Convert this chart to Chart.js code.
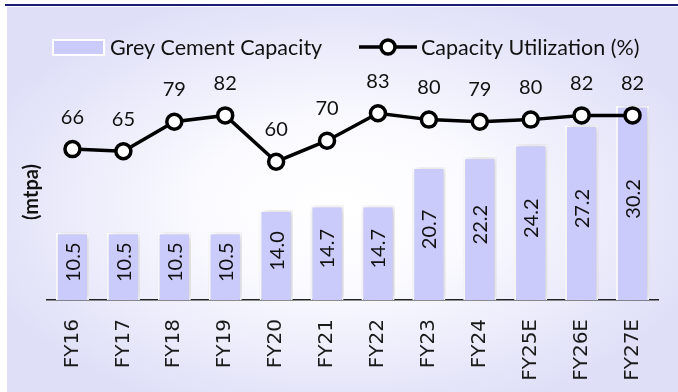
<!DOCTYPE html>
<html>
<head>
<meta charset="utf-8">
<script src="https://cdn.jsdelivr.net/npm/chart.js@4.4.1/dist/chart.umd.min.js"></script>
<style>
  html, body { margin: 0; padding: 0; background: #ffffff; }
  #wrap { width: 678px; height: 392px; }
</style>
</head>
<body>
<div id="wrap"><canvas id="chart" width="678" height="392"></canvas></div>
<script>
// Fiscal years on the category axis
const categories = ['FY16', 'FY17', 'FY18', 'FY19', 'FY20', 'FY21', 'FY22', 'FY23', 'FY24', 'FY25E', 'FY26E', 'FY27E'];
// Grey cement capacity, mtpa
const capacity = [10.5, 10.5, 10.5, 10.5, 14.0, 14.7, 14.7, 20.7, 22.2, 24.2, 27.2, 30.2];
// Capacity utilization, %
const utilization = [66, 65, 79, 82, 60, 70, 83, 80, 79, 80, 82, 82];

const seriesNames = ['Grey Cement Capacity', 'Capacity Utilization (%)'];
const unitLabel = '(mtpa)';

const BAR_FILL = '#cbcbfb';
const TEXT = '#111111';
const LABEL_FONT = 'Lato, "Noto Sans", sans-serif';

// Soft lavender panel with a lighter centre, plus the navy rule above it
const backdrop = {
  id: 'backdrop',
  beforeDraw(chart) {
    const ctx = chart.ctx;
    const W = chart.width, H = chart.height;
    ctx.save();
    ctx.fillStyle = '#ffffff';
    ctx.fillRect(0, 0, W, H);
    ctx.translate(340, 205);
    ctx.scale(1, 0.58);
    const g = ctx.createRadialGradient(0, 0, 0, 0, 0, 380);
    g.addColorStop(0, '#ffffff');
    g.addColorStop(0.35, '#fbfbff');
    g.addColorStop(1, '#dfdff8');
    ctx.fillStyle = g;
    ctx.fillRect(-333, -198 / 0.58, 671, 385 / 0.58);
    ctx.restore();
    ctx.save();
    ctx.fillStyle = '#1c1c78';
    ctx.fillRect(5, 4, W - 5, 2);
    ctx.restore();
  }
};

// Light shadow behind the bars
const barShadow = {
  id: 'barShadow',
  beforeDatasetDraw(chart, args) {
    if (chart.data.datasets[args.index].type !== 'bar') return;
    const ctx = chart.ctx;
    ctx.save();
    ctx.shadowColor = 'rgba(70,70,100,0.3)';
    ctx.shadowBlur = 7;
    ctx.shadowOffsetX = 2;
    ctx.shadowOffsetY = 0;
  },
  afterDatasetDraw(chart, args) {
    if (chart.data.datasets[args.index].type !== 'bar') return;
    chart.ctx.restore();
  }
};

// Value labels: vertical inside the bars, above the line markers
const valueLabels = {
  id: 'valueLabels',
  afterDatasetsDraw(chart) {
    const ctx = chart.ctx;
    ctx.save();
    ctx.fillStyle = TEXT;
    ctx.font = '20px ' + LABEL_FONT;
    ctx.textAlign = 'center';
    ctx.textBaseline = 'middle';
    chart.data.datasets.forEach((ds, di) => {
      const meta = chart.getDatasetMeta(di);
      meta.data.forEach((el, i) => {
        const v = ds.data[i];
        if (ds.type === 'bar') {
          const cy = (el.y + el.base) / 2 - 4;
          ctx.save();
          ctx.translate(el.x, cy);
          ctx.rotate(-Math.PI / 2);
          ctx.fillText(v.toFixed(1), 0, 1);
          ctx.restore();
        } else {
          ctx.fillText(String(v), el.x, el.y - 32);
        }
      });
    });
    ctx.restore();
  }
};

// Legend row and the unit caption on the left
const legendAndUnit = {
  id: 'legendAndUnit',
  afterDraw(chart) {
    const ctx = chart.ctx;
    const cy = 47;
    ctx.save();
    // bar swatch
    ctx.fillStyle = BAR_FILL;
    ctx.fillRect(53, 40, 51, 15);
    ctx.strokeStyle = '#ffffff';
    ctx.lineWidth = 2;
    ctx.strokeRect(53, 40, 51, 15);
    ctx.fillStyle = TEXT;
    ctx.font = '21.5px ' + LABEL_FONT;
    ctx.textAlign = 'left';
    ctx.textBaseline = 'middle';
    ctx.fillText(seriesNames[0], 110, cy + 1);
    // line swatch
    ctx.strokeStyle = '#000000';
    ctx.lineWidth = 3.5;
    ctx.beginPath();
    ctx.moveTo(359, cy);
    ctx.lineTo(417, cy);
    ctx.stroke();
    ctx.beginPath();
    ctx.arc(388, cy, 7, 0, Math.PI * 2);
    ctx.fillStyle = '#ffffff';
    ctx.fill();
    ctx.stroke();
    ctx.fillStyle = TEXT;
    ctx.fillText(seriesNames[1], 421, cy + 1);
    // unit caption
    ctx.font = 'bold 20px ' + LABEL_FONT;
    ctx.textAlign = 'center';
    ctx.translate(32, 192);
    ctx.rotate(-Math.PI / 2);
    ctx.fillText(unitLabel, 0, 0);
    ctx.restore();
  }
};

new Chart(document.getElementById('chart'), {
  data: {
    labels: categories,
    datasets: [
      {
        type: 'line',
        label: seriesNames[1],
        data: utilization,
        yAxisID: 'y1',
        order: 0,
        borderColor: '#000000',
        borderWidth: 3.5,
        pointRadius: 7.5,
        pointBorderWidth: 3.5,
        pointBackgroundColor: '#ffffff',
        pointBorderColor: '#000000',
        tension: 0,
        clip: false
      },
      {
        type: 'bar',
        label: seriesNames[0],
        data: capacity,
        yAxisID: 'y',
        order: 1,
        backgroundColor: BAR_FILL,
        borderColor: '#ffffff',
        borderWidth: 2,
        categoryPercentage: 1,
        barPercentage: 0.65
      }
    ]
  },
  options: {
    responsive: false,
    animation: false,
    devicePixelRatio: 1,
    layout: { padding: { left: 47, right: 20, top: 75, bottom: 0 } },
    plugins: { legend: { display: false }, tooltip: { enabled: false } },
    scales: {
      x: {
        grid: { display: false, drawTicks: false },
        border: { display: true, color: '#222222', width: 1.5 },
        ticks: {
          color: '#1a1a1a',
          font: { family: '"DejaVu Sans", Verdana, sans-serif', size: 20 },
          minRotation: 90,
          maxRotation: 90,
          padding: 19,
          autoSkip: false
        },
        afterFit(scale) { scale.height = 92; }
      },
      y: { display: false, min: 0, max: 35 },
      y1: { display: false, min: -5.7, max: 101.2, position: 'right' }
    }
  },
  plugins: [backdrop, barShadow, valueLabels, legendAndUnit]
});
</script>
</body>
</html>
